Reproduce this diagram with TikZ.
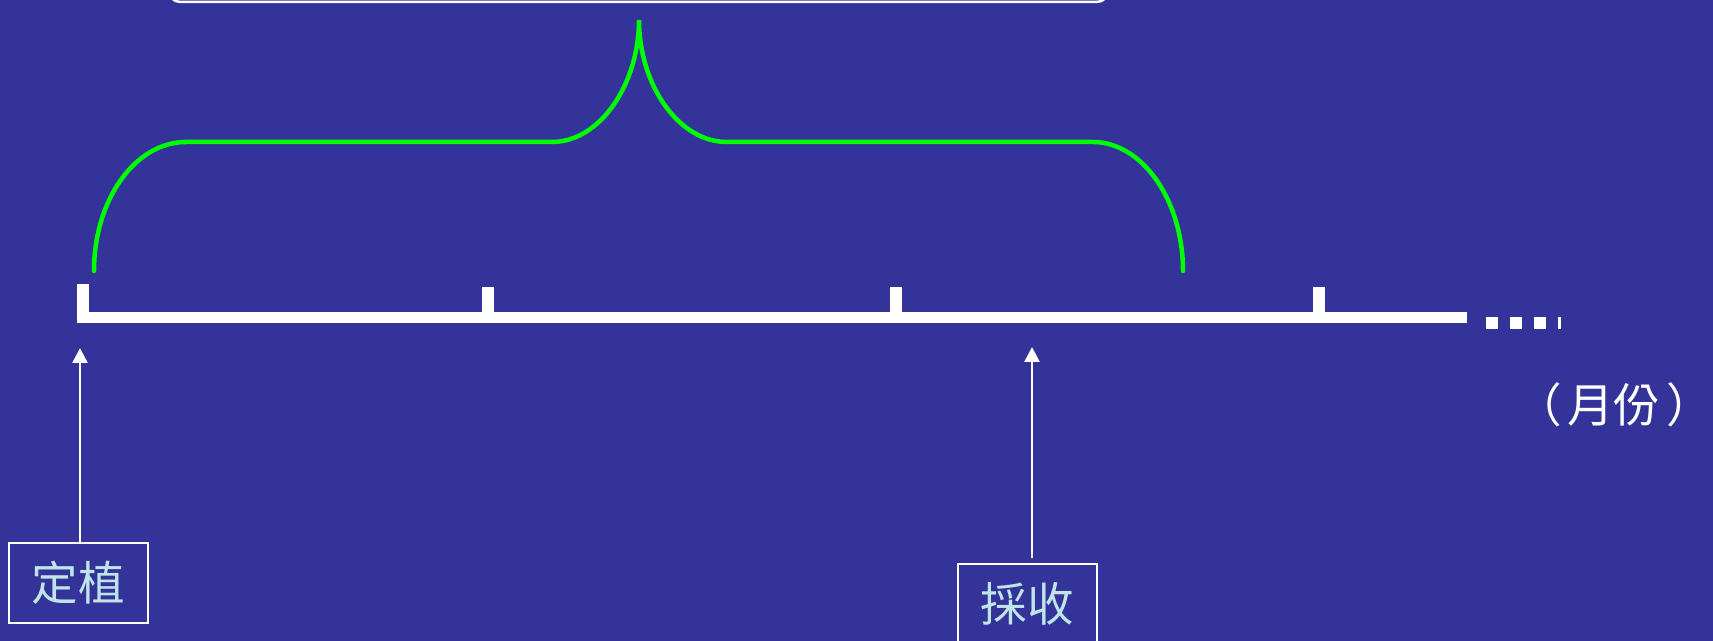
\documentclass[tikz,border=0pt]{standalone}
\usepackage{fontspec}
\newfontfamily\cjk{Noto Sans CJK TC}
\usetikzlibrary{arrows.meta, positioning}
\definecolor{slidebg}{HTML}{333399}
\definecolor{bracegreen}{HTML}{00FF00}
\definecolor{labeltext}{HTML}{BFE4EA}

\begin{document}
\begin{tikzpicture}[
    x=0.02cm, y=-0.02cm,
    >={Triangle[width=0.3cm, length=0.3cm]},
    font=\cjk\fontsize{26.5pt}{30pt}\selectfont,
    axis/.style={white, line width=0.23cm, line join=miter},
    tick/.style={white, line width=0.24cm},
    stage/.style={
        draw=white,
        line width=0.04cm,
        minimum width=2.78cm,
        minimum height=1.6cm,
        text=labeltext,
        inner sep=0pt
    },
    pointer/.style={->, white, line width=0.05cm},
    span/.style={bracegreen, line width=0.09cm, line cap=round}
]

% Background
\fill[slidebg] (0,0) rectangle (1713,641);
\useasboundingbox (0,0) rectangle (1713,641);
\clip (0,0) rectangle (1713,641);

% Top box, only its lower edge shows
\draw[white, line width=0.05cm, rounded corners=0.25cm] (168,-80) rectangle (1109,2);

% Growing period brace
\draw[span] (94,271) .. controls (94,200) and (135,142) .. (186,142) -- (552,142)
    .. controls (600,142) and (639,84) .. (639,20)
    .. controls (639,84) and (678,142) .. (727,142) -- (1093,142)
    .. controls (1142,142) and (1183,200) .. (1183,271);

% Time axis
\draw[axis] (83,284) |- (1467,317.5);
\foreach \x in {488,896,1319}
    \draw[tick] (\x,287) -- (\x,313);
\draw[white, line width=0.24cm, dash pattern=on 0.24cm off 0.24cm] (1486,323) -- (1561,323);
\node[white, inner sep=0pt, anchor=east] (unit) at (1713,405) {（\kern0.12em月份\kern0.12em）};

% Stages
\node[stage] (plant) at (78.5,583) {定植};
\node[stage] (harvest) at (1027.5,604) {採收};

\coordinate (plantmark) at (80,348);
\coordinate (harvestmark) at (1032,347);

\draw[pointer] (plant.north -| plantmark) -- (plantmark);
\draw[pointer] ([yshift=0.1cm]harvest.north -| harvestmark) -- (harvestmark);

\end{tikzpicture}
\end{document}
